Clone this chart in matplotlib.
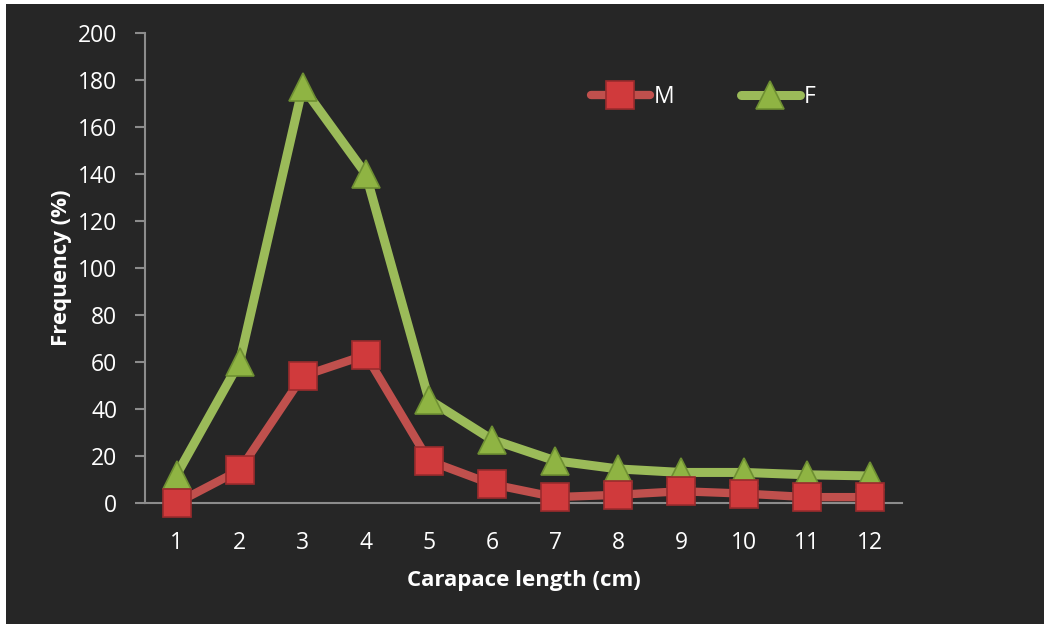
import matplotlib
matplotlib.use("Agg")
import matplotlib.pyplot as plt
from matplotlib.patches import Rectangle
from matplotlib.lines import Line2D

plt.rcParams['font.family'] = ['Open Sans', 'DejaVu Sans']

# Carapace length classes (cm) and frequencies per sex
lengths = [1, 2, 3, 4, 5, 6, 7, 8, 9, 10, 11, 12]
male = [0, 14, 54, 63, 18, 8, 2.5, 3.5, 5, 4, 2.5, 2.5]
female = [12, 60, 177, 140, 44, 27, 18, 14.5, 13, 13, 12, 11.5]
yticks = [0, 20, 40, 60, 80, 100, 120, 140, 160, 180, 200]

BG = '#262626'
RED_LINE = '#C0504D'
RED_FACE = '#D03A3C'
RED_EDGE = '#9A2B2D'
GREEN_LINE = '#9BBB59'
GREEN_FACE = '#8FB443'
GREEN_EDGE = '#6E8F32'

fig = plt.figure(figsize=(10.44, 6.24), dpi=100, facecolor=BG)
# thin white margin on the left and top edges
fig.patches.append(Rectangle((0, 0), 6 / 1044, 1, transform=fig.transFigure,
                             facecolor='white', edgecolor='none', zorder=-5))
fig.patches.append(Rectangle((0, (624 - 4) / 624), 1, 4 / 624,
                             transform=fig.transFigure, facecolor='white',
                             edgecolor='none', zorder=-5))

ax = fig.add_axes([145 / 1044, 121 / 624, (902 - 145) / 1044, (503 - 33) / 624])
ax.set_facecolor(BG)

ax.plot(lengths, female, color=GREEN_LINE, lw=6.5, solid_capstyle='round',
        solid_joinstyle='round', zorder=2)
ax.plot(lengths, male, color=RED_LINE, lw=6, solid_capstyle='round',
        solid_joinstyle='round', zorder=3)

ax.plot(lengths, female, ls='none', marker='^', ms=20, mfc=GREEN_FACE,
        mec=GREEN_EDGE, mew=1.2, zorder=4, clip_on=False)
ax.plot(lengths, male, ls='none', marker='s', ms=20, mfc=RED_FACE,
        mec=RED_EDGE, mew=1.2, zorder=5, clip_on=False)

ax.set_xlim(0.5, 12.5)
ax.set_ylim(0, 200)
ax.set_xticks(lengths)
ax.set_xticklabels([str(v) for v in lengths])
ax.set_yticks(yticks)

for s in ['top', 'right']:
    ax.spines[s].set_visible(False)
for s in ['left', 'bottom']:
    ax.spines[s].set_color('#8C8C8C')
    ax.spines[s].set_linewidth(1.5)
ax.tick_params(axis='y', colors='#8C8C8C', length=7, width=1.5,
               labelcolor='white', labelsize=16.5, pad=13)
ax.tick_params(axis='x', length=0, labelcolor='white', labelsize=16.5, pad=20)

ax.set_xlabel('Carapace length (cm)', color='white', fontsize=16,
              fontweight='bold', labelpad=11)
ax.set_ylabel('Frequency (%)', color='white', fontsize=16,
              fontweight='bold', labelpad=4)

handles = [
    Line2D([], [], color=RED_LINE, lw=6, solid_capstyle='round',
           marker='s', ms=20, mfc=RED_FACE, mec=RED_EDGE, mew=1.2),
    Line2D([], [], color=GREEN_LINE, lw=6.5, solid_capstyle='round',
           marker='^', ms=20, mfc=GREEN_FACE, mec=GREEN_EDGE, mew=1.2),
]
leg = ax.legend(handles, ['M', 'F'], ncol=2, frameon=False,
                loc='center', bbox_to_anchor=((703 - 145) / (902 - 145),
                                              (624 - 97 - 121) / (503 - 33)),
                handlelength=2.6, handletextpad=0.15, columnspacing=2.9,
                fontsize=16.5)
for t in leg.get_texts():
    t.set_color('white')

fig.savefig('out.png', dpi=100, facecolor=BG)
